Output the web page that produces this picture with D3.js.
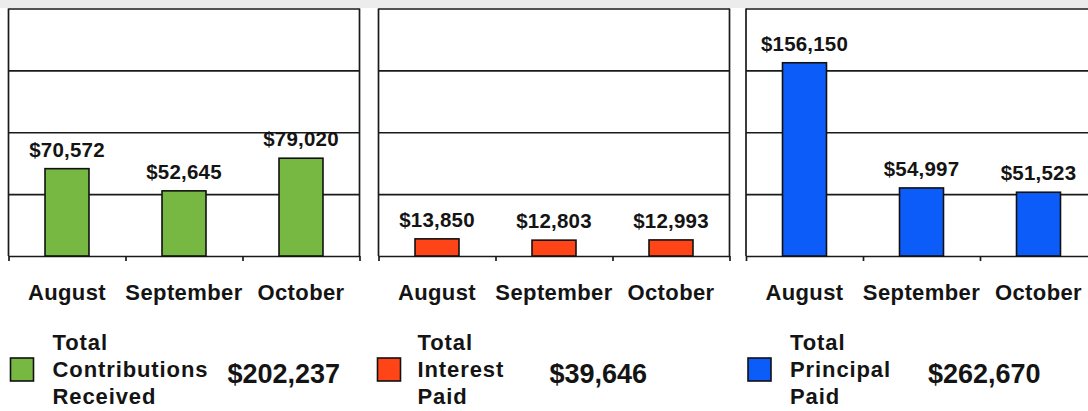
<!DOCTYPE html>
<html>
<head>
<meta charset="utf-8">
<script src="https://cdnjs.cloudflare.com/ajax/libs/d3/7.8.5/d3.min.js"></script>
<style>
  body { margin: 0; background: #fff; }
  svg text { font-family: "Liberation Sans", Arial, Helvetica, sans-serif; font-weight: bold; fill: #141414; }
</style>
</head>
<body>
<svg id="chart" width="1088" height="411"></svg>
<script>
// values
const months = ["August", "September", "October"];
const contributions = [70572, 52645, 79020];
const interest = [13850, 12803, 12993];
const principal = [156150, 54997, 51523];
const gridValues = [50000, 100000, 150000, 200000];
const legendNames = [
  ["Total", "Contributions", "Received"],
  ["Total", "Interest", "Paid"],
  ["Total", "Principal", "Paid"]
];
const colors = ["#77b843", "#ff4518", "#0b5cf8"];

const series = [contributions, interest, principal];

// panel layout
const panelLeft = [8.5, 378.5, 746];
const panelW = 351;
const plotTop = 8.5, plotBase = 256;
// legend offsets (relative to panel left): swatch, names, total
const legendOff = [[2, 44, 219], [-1, 39, 171], [2, 44, 182]];

const svg = d3.select("#chart");

// grey strip at the very top
svg.append("rect").attr("x", 0).attr("y", 0).attr("width", 1088).attr("height", 8)
  .attr("fill", "#ececec");

const y = d3.scaleLinear().domain([0, 200000]).range([plotBase, plotTop]);
const fmt = d3.format("$,");

series.forEach((vals, p) => {
  const g = svg.append("g").attr("transform", `translate(${panelLeft[p]},0)`);

  const x = d3.scaleBand().domain(months).range([0, panelW])
    .paddingInner(0.624).paddingOuter(0.312);

  // horizontal gridlines
  const grid = g.append("g")
    .call(d3.axisLeft(y).tickValues(gridValues).tickSize(-panelW).tickFormat(""));
  grid.select(".domain").remove();
  grid.selectAll(".tick line").attr("stroke", "#1a1a1a").attr("stroke-width", 1.7);

  // frame sides
  g.append("line").attr("x1", 0).attr("x2", 0).attr("y1", plotTop).attr("y2", plotBase)
    .attr("stroke", "#1a1a1a").attr("stroke-width", 1.7);
  g.append("line").attr("x1", panelW).attr("x2", panelW).attr("y1", plotTop).attr("y2", plotBase)
    .attr("stroke", "#1a1a1a").attr("stroke-width", 1.7);

  // bottom axis with ticks at the category boundaries
  const xb = d3.scaleLinear().domain([0, months.length]).range([0, panelW]);
  const ax = g.append("g").attr("transform", `translate(0,${plotBase})`)
    .call(d3.axisBottom(xb).tickValues(d3.range(months.length + 1)).tickSize(5).tickSizeOuter(0).tickFormat(""));
  ax.selectAll("path, line").attr("stroke", "#1a1a1a").attr("stroke-width", 1.7);

  // bars
  g.selectAll("rect.bar").data(vals).enter().append("rect")
    .attr("class", "bar")
    .attr("x", (d, i) => x(months[i]))
    .attr("y", d => y(d))
    .attr("width", x.bandwidth())
    .attr("height", d => plotBase - y(d))
    .attr("fill", colors[p])
    .attr("stroke", "#111")
    .attr("stroke-width", 1.6);

  // value labels
  g.selectAll("text.val").data(vals).enter().append("text")
    .attr("class", "val")
    .attr("x", (d, i) => x(months[i]) + x.bandwidth() / 2)
    .attr("y", d => y(d) - 12)
    .attr("text-anchor", "middle")
    .style("font-size", "20.5px")
    .style("letter-spacing", "0.2px")
    .text(d => fmt(d));

  // month labels
  g.selectAll("text.cat").data(months).enter().append("text")
    .attr("class", "cat")
    .attr("x", d => x(d) + x.bandwidth() / 2)
    .attr("y", 300)
    .attr("text-anchor", "middle")
    .style("font-size", "22px")
    .style("letter-spacing", "0.4px")
    .text(d => d);

  // legend
  const off = legendOff[p];
  g.append("rect").attr("x", off[0]).attr("y", 358).attr("width", 23).attr("height", 23)
    .attr("fill", colors[p]).attr("stroke", "#111").attr("stroke-width", 1.6);
  g.selectAll("text.name").data(legendNames[p]).enter().append("text")
    .attr("class", "name")
    .attr("x", off[1])
    .attr("y", (d, i) => 350 + i * 27)
    .style("font-size", "22px")
    .style("letter-spacing", "0.9px")
    .text(d => d);
  g.append("text").attr("x", off[2]).attr("y", 383)
    .style("font-size", "27px")
    .text(fmt(d3.sum(vals)));
});
</script>
</body>
</html>
